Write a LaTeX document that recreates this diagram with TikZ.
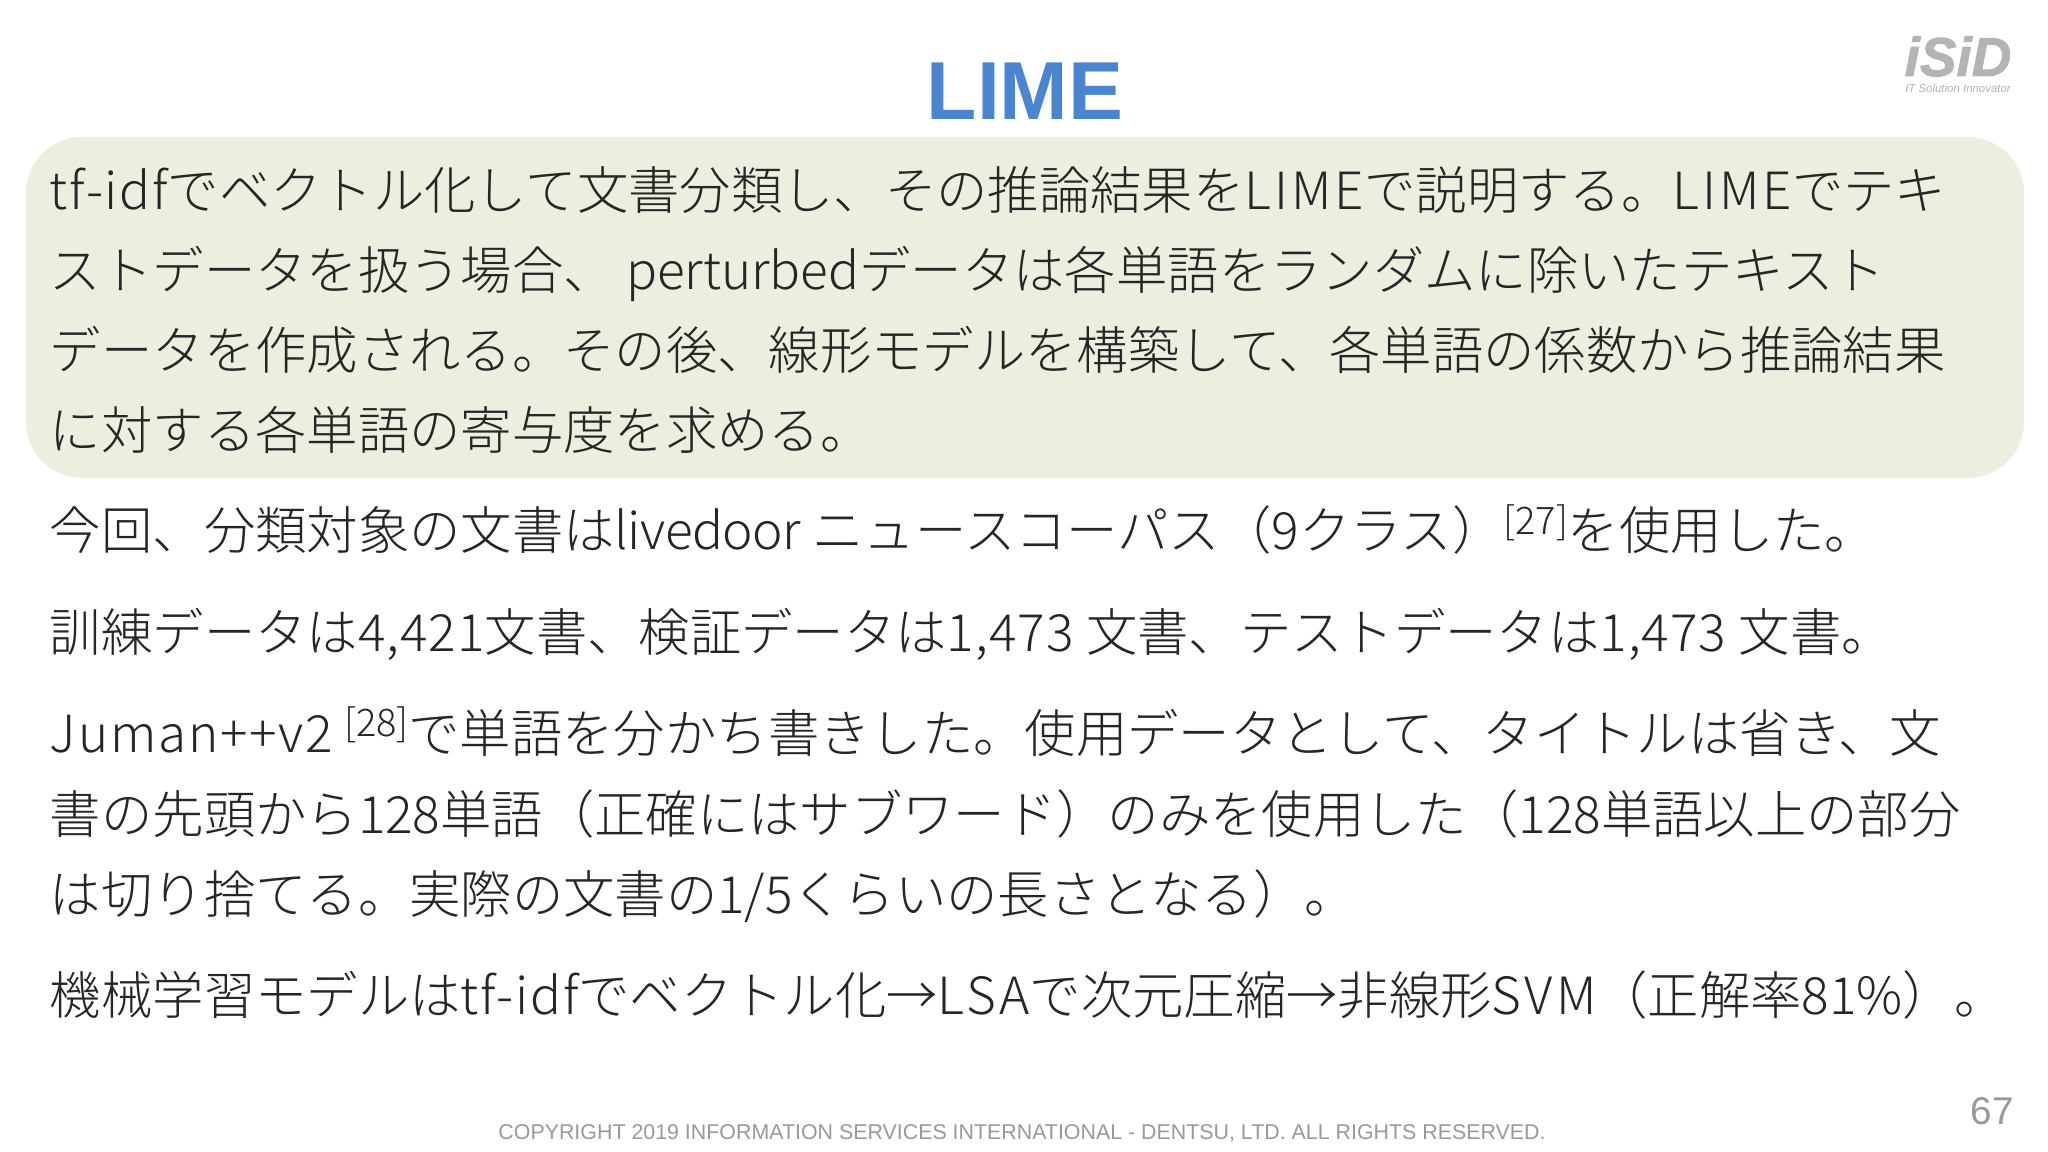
\documentclass[tikz,border=0pt]{standalone}
\usepackage{fontspec}
\setmainfont{Noto Sans CJK JP Light}
\newfontfamily\latinfont{Liberation Sans}
\definecolor{titleblue}{HTML}{4A86D0}
\definecolor{boxgreen}{HTML}{ECEEDF}
\definecolor{bodygray}{HTML}{262626}
\definecolor{footgray}{HTML}{999999}
\definecolor{logogray}{HTML}{B4B4B4}
\newcommand{\supref}[1]{\raisebox{0.55ex}{\fontsize{10.8pt}{12pt}\selectfont #1}}
\newcommand{\wideA}[1]{{\addfontfeature{LetterSpace=3.3}#1}}
\newcommand{\wideB}[1]{{\addfontfeature{LetterSpace=6}#1}}
\newcommand{\wideC}[1]{{\addfontfeature{LetterSpace=2}#1}}
\newcommand{\tightA}[1]{{\addfontfeature{LetterSpace=-1}#1}}

\begin{document}
\begin{tikzpicture}[x=0.01cm, y=-0.01cm,
    every node/.style={inner sep=0pt, outer sep=0pt},
    bodyline/.style={anchor=base west, text=bodygray, font=\fontsize{14.6pt}{17pt}\selectfont}]
  \useasboundingbox (0,0) rectangle (2048,1152);
  \fill[white] (0,0) rectangle (2048,1152);

  \node[anchor=base, text=titleblue, font=\latinfont\bfseries\fontsize{23.4pt}{28pt}\selectfont] (title) at (1025,120) {LIME};

  % logo
  \node[anchor=base, text=logogray, font=\latinfont\bfseries\itshape\fontsize{15.6pt}{17pt}\selectfont\addfontfeature{FakeBold=1.5}] (logo) at (1958,76) {iSiD};
  \node[anchor=base, text=logogray, font=\latinfont\itshape\fontsize{3.25pt}{4pt}\selectfont] (logosub) at (1958,93) {IT Solution Innovator};

  \fill[boxgreen, rounded corners=16pt] (26,137) rectangle (2024,478);

  \node[bodyline] (l1) at (50,210) {\wideA{tf-idf}でベクトル化して文書分類し、その推論結果を\wideB{LIME}で説明する。\wideB{LIME}でテキ};
  \node[bodyline] (l2) at (50,290) {ストデータを扱う場合、 perturbedデータは各単語をランダムに除いたテキスト};
  \node[bodyline] (l3) at (50,370) {データを作成される。その後、線形モデルを構築して、各単語の係数から推論結果};
  \node[bodyline] (l4) at (50,450) {に対する各単語の寄与度を求める。};

  \node[bodyline] (l5) at (50,550) {今回、分類対象の文書は\tightA{livedoor} ニュースコーパス（9クラス）\supref{[27]}を使用した。};
  \node[bodyline] (l6) at (50,652) {訓練データは\wideC{4,421}文書、検証データは\wideC{1,473 }文書、テストデータは\wideC{1,473 }文書。};
  \node[bodyline] (l7) at (50,752) {\wideA{Juman++v2} \supref{[28]}で単語を分かち書きした。使用データとして、タイトルは省き、文};
  \node[bodyline] (l8) at (50,833) {書の先頭から128単語（正確にはサブワード）のみを使用した（128単語以上の部分};
  \node[bodyline] (l9) at (50,913) {は切り捨てる。実際の文書の1/5くらいの長さとなる）。};
  \node[bodyline] (l10) at (50,1014) {機械学習モデルは\wideA{tf-idf}でベクトル化→\wideB{LSA}で次元圧縮→非線形\wideB{SVM}（正解率81\%）。};

  \node[anchor=base, text=footgray, font=\latinfont\fontsize{6.08pt}{8pt}\selectfont] (copyright) at (1022,1139) {COPYRIGHT 2019 INFORMATION SERVICES INTERNATIONAL - DENTSU, LTD. ALL RIGHTS RESERVED.};
  \node[anchor=base east, text=footgray, font=\latinfont\fontsize{11pt}{13pt}\selectfont] (pagenum) at (2014,1124) {67};
\end{tikzpicture}
\end{document}
